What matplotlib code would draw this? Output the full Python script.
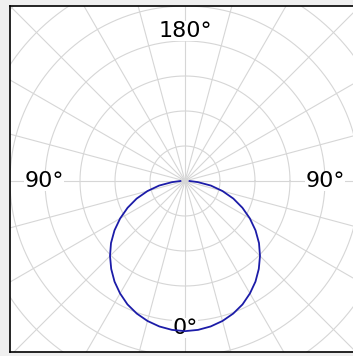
import numpy as np
import matplotlib
matplotlib.use("Agg")
import matplotlib.pyplot as plt

# Radiation pattern: angle from the 0° direction (downwards) and relative level,
# expressed in grid-ring units.
angles_deg = [-90, -85, -80, -75, -70, -65, -60, -55, -50, -45, -40, -35, -30, -25,
              -20, -15, -10, -5, 0, 5, 10, 15, 20, 25, 30, 35, 40, 45, 50, 55, 60,
              65, 70, 75, 80, 85, 90]
levels = [0.13, 0.37, 0.75, 1.11, 1.47, 1.81, 2.14, 2.46, 2.76, 3.03, 3.28, 3.51,
          3.71, 3.89, 4.03, 4.14, 4.22, 4.27, 4.29, 4.27, 4.22, 4.14, 4.03, 3.89,
          3.71, 3.51, 3.28, 3.03, 2.76, 2.46, 2.14, 1.81, 1.47, 1.11, 0.75, 0.37,
          0.13]

# Direction labels: text, angle (from downwards, clockwise to the left), radius (px)
label_texts = ["0°", "90°", "180°", "90°"]
label_angles = [0, 90, 180, 270]
label_radii_px = [147, 141, 150, 140]

ring_radii = list(range(1, 9))
spoke_step_deg = 15

W, H = 353, 356
fig = plt.figure(figsize=(W / 100, H / 100), dpi=100, facecolor="#efefef")

# axes box in pixels: left 10, top 6, bottom 352, right runs past the edge
left_px, top_px, bottom_px, width_px = 10, 6, 352, 350
ax = fig.add_axes([left_px / W, (H - bottom_px) / H, width_px / W,
                   (bottom_px - top_px) / H])
ax.set_facecolor("white")

unit = 35.0  # pixels per ring
cx_px, cy_px = 185, 181
ax.set_xlim(-(cx_px - left_px) / unit, (left_px + width_px - cx_px) / unit)
ax.set_ylim(-(bottom_px - cy_px) / unit, (cy_px - top_px) / unit)

grid_kw = dict(color="#d6d6d6", lw=0.8, zorder=1)
t = np.linspace(0, 2 * np.pi, 721)
for r in ring_radii:
    ax.plot(r * np.cos(t), r * np.sin(t), **grid_kw)
for a in np.arange(0, 180, spoke_step_deg):
    ar = np.deg2rad(a)
    ax.plot([-10 * np.cos(ar), 10 * np.cos(ar)],
            [-10 * np.sin(ar), 10 * np.sin(ar)], **grid_kw)

th = np.deg2rad(angles_deg)
lv = np.asarray(levels)
ax.plot(lv * np.sin(th), -lv * np.cos(th), color="#1c1ca8", lw=1.3, zorder=3)

for txt, a, rp in zip(label_texts, label_angles, label_radii_px):
    ar = np.deg2rad(a)
    r = rp / unit
    ax.text(-r * np.sin(ar), -r * np.cos(ar), txt, ha="center", va="center",
            fontsize=16, family=["DejaVu Sans"], zorder=2,
            bbox=dict(facecolor="white", edgecolor="none", pad=0.0))

ax.set_xticks([])
ax.set_yticks([])
for side in ["left", "top", "bottom", "right"]:
    ax.spines[side].set_color("black")
    ax.spines[side].set_linewidth(1.2)

fig.savefig("out.png", dpi=100, facecolor=fig.get_facecolor())
